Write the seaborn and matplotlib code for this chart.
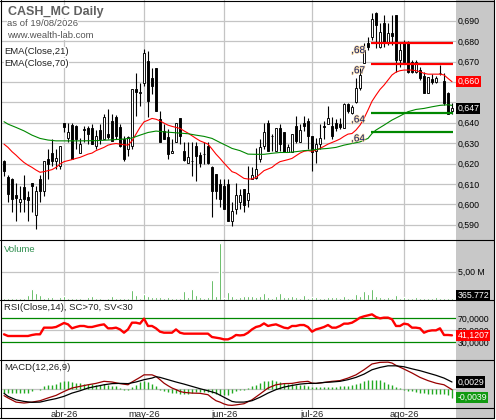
import numpy as np
import pandas as pd
import seaborn as sns
import matplotlib.pyplot as plt
import matplotlib.patheffects as pe
from matplotlib.patches import Rectangle
from matplotlib.lines import Line2D
from matplotlib.ticker import FuncFormatter

# trading days on the chart (Madrid market, 11 Mar - 19 Aug 2026)
holidays = ["2026-04-03", "2026-04-06", "2026-05-01"]
dates = pd.bdate_range("2026-03-11", "2026-08-19", freq="C", holidays=holidays)
month_names = {3: "mar", 4: "abr", 5: "may", 6: "jun", 7: "jul", 8: "ago"}

opens = [0.6210, 0.6135, 0.6124, 0.6045, 0.6013, 0.6083, 0.6035, 0.6103, 0.5950, 0.6124,
         0.6064, 0.6222, 0.6251, 0.6214, 0.6186, 0.6400, 0.6323, 0.6388, 0.6382, 0.6250,
         0.6368, 0.6372, 0.6372, 0.6287, 0.6365, 0.6320, 0.6344, 0.6409, 0.6430, 0.6377,
         0.6320, 0.6271, 0.6287, 0.6564, 0.6545, 0.6597, 0.6703, 0.6621, 0.6670, 0.6417,
         0.6360, 0.6328, 0.6250, 0.6303, 0.6421, 0.6260, 0.6202, 0.6210, 0.6284, 0.6241,
         0.6246, 0.6284, 0.6181, 0.6148, 0.6100, 0.6091, 0.6100, 0.5920, 0.5977, 0.6013,
         0.6075, 0.6023, 0.6124, 0.6129, 0.6222, 0.6284, 0.6400, 0.6334, 0.6260, 0.6372,
         0.6352, 0.6254, 0.6254, 0.6382, 0.6303, 0.6400, 0.6409, 0.6333, 0.6263, 0.6295,
         0.6382, 0.6393, 0.6382, 0.6400, 0.6393, 0.6372, 0.6491, 0.6450, 0.6503, 0.6568,
         0.6691, 0.6792, 0.6822, 0.6939, 0.6772, 0.6887, 0.6797, 0.6838, 0.6928, 0.6707,
         0.6797, 0.6797, 0.6699, 0.6650, 0.6658, 0.6629, 0.6547, 0.6612, 0.6601, 0.6646,
         0.6603, 0.6544, 0.6455]
highs = [0.6215, 0.6145, 0.6130, 0.6105, 0.6091, 0.6145, 0.6065, 0.6103, 0.6091, 0.6145,
         0.6214, 0.6271, 0.6320, 0.6271, 0.6287, 0.6400, 0.6400, 0.6400, 0.6388, 0.6323,
         0.6382, 0.6382, 0.6393, 0.6365, 0.6393, 0.6442, 0.6466, 0.6442, 0.6440, 0.6393,
         0.6336, 0.6336, 0.6564, 0.6646, 0.6597, 0.6760, 0.6750, 0.6670, 0.6670, 0.6458,
         0.6393, 0.6369, 0.6320, 0.6400, 0.6421, 0.6303, 0.6303, 0.6303, 0.6303, 0.6254,
         0.6303, 0.6303, 0.6189, 0.6148, 0.6124, 0.6124, 0.6124, 0.6010, 0.6104, 0.6075,
         0.6075, 0.6189, 0.6181, 0.6274, 0.6320, 0.6400, 0.6414, 0.6344, 0.6372, 0.6393,
         0.6352, 0.6295, 0.6344, 0.6431, 0.6393, 0.6434, 0.6421, 0.6333, 0.6323, 0.6393,
         0.6409, 0.6483, 0.6426, 0.6417, 0.6421, 0.6499, 0.6499, 0.6486, 0.6617, 0.6666,
         0.6789, 0.6822, 0.6936, 0.6944, 0.6887, 0.6928, 0.6887, 0.6928, 0.6928, 0.6789,
         0.6805, 0.6800, 0.6707, 0.6707, 0.6674, 0.6650, 0.6625, 0.6637, 0.6629, 0.6681,
         0.6642, 0.6550, 0.6495]
lows = [0.6137, 0.6010, 0.5961, 0.5920, 0.5961, 0.5961, 0.5920, 0.5961, 0.5880, 0.6010,
        0.6043, 0.6124, 0.6186, 0.6173, 0.6173, 0.6352, 0.6303, 0.6222, 0.6271, 0.6250,
        0.6303, 0.6295, 0.6295, 0.6271, 0.6295, 0.6320, 0.6320, 0.6311, 0.6320, 0.6279,
        0.6214, 0.6238, 0.6271, 0.6434, 0.6483, 0.6580, 0.6426, 0.6540, 0.6458, 0.6303,
        0.6320, 0.6222, 0.6250, 0.6303, 0.6295, 0.6214, 0.6202, 0.6140, 0.6116, 0.6181,
        0.6197, 0.6197, 0.5937, 0.6026, 0.5985, 0.5977, 0.5920, 0.5896, 0.5953, 0.5977,
        0.5961, 0.5985, 0.6124, 0.6124, 0.6205, 0.6271, 0.6260, 0.6263, 0.6260, 0.6260,
        0.6254, 0.6254, 0.6254, 0.6300, 0.6303, 0.6360, 0.6271, 0.6165, 0.6202, 0.6271,
        0.6320, 0.6393, 0.6320, 0.6360, 0.6369, 0.6372, 0.6450, 0.6445, 0.6495, 0.6560,
        0.6691, 0.6756, 0.6805, 0.6764, 0.6764, 0.6772, 0.6781, 0.6781, 0.6650, 0.6674,
        0.6691, 0.6642, 0.6642, 0.6642, 0.6609, 0.6547, 0.6547, 0.6590, 0.6593, 0.6633,
        0.6486, 0.6445, 0.6445]
closes = [0.6162, 0.6051, 0.6026, 0.6030, 0.6025, 0.6026, 0.6020, 0.6091, 0.6064, 0.6067,
          0.6210, 0.6197, 0.6210, 0.6225, 0.6287, 0.6377, 0.6352, 0.6222, 0.6320, 0.6294,
          0.6362, 0.6344, 0.6298, 0.6336, 0.6320, 0.6430, 0.6330, 0.6311, 0.6336, 0.6287,
          0.6222, 0.6328, 0.6564, 0.6551, 0.6550, 0.6740, 0.6507, 0.6580, 0.6458, 0.6303,
          0.6320, 0.6246, 0.6260, 0.6400, 0.6336, 0.6219, 0.6230, 0.6212, 0.6238, 0.6202,
          0.6248, 0.6202, 0.6067, 0.6067, 0.6026, 0.5977, 0.5920, 0.5969, 0.6046, 0.6046,
          0.5999, 0.6055, 0.6144, 0.6173, 0.6279, 0.6352, 0.6260, 0.6333, 0.6372, 0.6295,
          0.6254, 0.6279, 0.6344, 0.6311, 0.6365, 0.6382, 0.6333, 0.6254, 0.6295, 0.6323,
          0.6378, 0.6421, 0.6333, 0.6372, 0.6377, 0.6491, 0.6458, 0.6478, 0.6568, 0.6633,
          0.6756, 0.6772, 0.6907, 0.6879, 0.6846, 0.6789, 0.6838, 0.6825, 0.6707, 0.6756,
          0.6699, 0.6650, 0.6650, 0.6699, 0.6617, 0.6547, 0.6622, 0.6600, 0.6617, 0.6642,
          0.6495, 0.6445, 0.6470]
volume = [420000, 420000, 420000, 420000, 420000, 420000, 840000, 1930000, 1320000, 900000,
          420000, 540000, 540000, 240000, 540000, 720000, 420000, 300000, 420000, 420000,
          240000, 540000, 720000, 420000, 420000, 240000, 420000, 720000, 300000, 420000,
          420000, 420000, 1740000, 900000, 420000, 1020000, 720000, 540000, 540000, 540000,
          420000, 540000, 420000, 420000, 420000, 1500000, 540000, 1870000, 900000, 540000,
          420000, 540000, 3550000, 720000, 10050000, 420000, 1380000, 720000, 420000, 540000,
          720000, 720000, 720000, 540000, 720000, 1320000, 540000, 420000, 720000, 1320000,
          540000, 540000, 720000, 540000, 420000, 900000, 420000, 540000, 540000, 420000,
          420000, 540000, 540000, 540000, 420000, 720000, 420000, 420000, 1020000, 720000,
          1620000, 1020000, 1930000, 720000, 540000, 420000, 540000, 420000, 900000, 420000,
          540000, 420000, 420000, 540000, 420000, 420000, 420000, 420000, 540000, 300000,
          420000, 420000, 365772]

ema21 = [0.6295, 0.6279, 0.6258, 0.6241, 0.6222, 0.6205, 0.6192, 0.6181, 0.6168, 0.6157,
         0.6160, 0.6165, 0.6170, 0.6181, 0.6197, 0.6209, 0.6214, 0.6219, 0.6225, 0.6230,
         0.6238, 0.6246, 0.6251, 0.6263, 0.6271, 0.6279, 0.6290, 0.6295, 0.6298, 0.6295,
         0.6292, 0.6290, 0.6311, 0.6344, 0.6377, 0.6404, 0.6412, 0.6421, 0.6417, 0.6409,
         0.6398, 0.6388, 0.6382, 0.6377, 0.6372, 0.6360, 0.6349, 0.6336, 0.6323, 0.6311,
         0.6303, 0.6295, 0.6271, 0.6246, 0.6225, 0.6202, 0.6181, 0.6160, 0.6153, 0.6140,
         0.6127, 0.6124, 0.6124, 0.6132, 0.6148, 0.6165, 0.6173, 0.6181, 0.6197, 0.6209,
         0.6214, 0.6219, 0.6225, 0.6238, 0.6251, 0.6260, 0.6263, 0.6260, 0.6266, 0.6274,
         0.6284, 0.6295, 0.6303, 0.6311, 0.6320, 0.6333, 0.6344, 0.6347, 0.6364, 0.6388,
         0.6421, 0.6462, 0.6505, 0.6535, 0.6563, 0.6584, 0.6609, 0.6634, 0.6648, 0.6655,
         0.6658, 0.6658, 0.6658, 0.6655, 0.6650, 0.6642, 0.6638, 0.6638, 0.6638, 0.6638,
         0.6634, 0.6617, 0.6601]
ema70_bars = [1, 2, 4, 6, 8, 10, 12, 14, 16, 20, 24, 28, 31, 33, 35, 37, 39, 41, 43, 45,
              47, 49, 51, 53, 55, 57, 58, 60, 62, 64, 66, 68, 70, 72, 74, 76, 78, 80, 82, 84,
              86, 88, 90, 92, 93, 94, 96, 98, 100, 102, 104, 106, 108, 110, 112, 113]
ema70 = [0.6405, 0.6393, 0.6377, 0.6360, 0.6339, 0.6323, 0.6315, 0.6311, 0.6311, 0.6311,
         0.6312, 0.6316, 0.6320, 0.6325, 0.6339, 0.6352, 0.6359, 0.6355, 0.6352, 0.6349,
         0.6346, 0.6339, 0.6333, 0.6323, 0.6303, 0.6284, 0.6274, 0.6263, 0.6246, 0.6245,
         0.6245, 0.6250, 0.6254, 0.6254, 0.6258, 0.6263, 0.6266, 0.6271, 0.6274, 0.6279,
         0.6290, 0.6298, 0.6306, 0.6323, 0.6347, 0.6364, 0.6388, 0.6413, 0.6433, 0.6454,
         0.6465, 0.6470, 0.6478, 0.6485, 0.6488, 0.6485]

# support / resistance levels drawn from bar 93 to the last bar
level_values = [0.6789, 0.6690, 0.6449, 0.6356]
level_colors = ["#ff0000", "#ff0000", "#008800", "#008800"]
level_start = 93

rsi = [42.8, 40.0, 40.0, 40.0, 40.0, 40.0, 40.0, 41.7, 42.8, 42.8,
       53.9, 53.9, 53.9, 55.0, 58.3, 61.7, 59.4, 52.8, 55.0, 56.7,
       56.7, 55.0, 55.0, 56.7, 58.3, 59.4, 52.8, 52.8, 53.9, 51.0,
       45.5, 51.0, 62.2, 62.2, 60.6, 68.9, 56.7, 56.7, 52.8, 47.2,
       45.5, 45.5, 45.5, 51.0, 45.5, 43.9, 43.9, 43.9, 43.9, 43.9,
       43.9, 43.9, 38.3, 37.2, 36.1, 34.4, 34.4, 37.2, 41.7, 41.0,
       41.7, 45.5, 51.0, 55.0, 56.7, 61.0, 56.7, 58.3, 59.4, 56.7,
       53.9, 52.8, 56.7, 56.7, 58.3, 58.3, 55.0, 47.2, 51.0, 52.8,
       55.0, 58.3, 53.9, 53.9, 56.7, 60.6, 60.6, 62.2, 66.1, 70.6,
       72.8, 74.4, 76.1, 71.7, 69.4, 70.6, 70.6, 67.8, 56.7, 56.7,
       60.6, 59.4, 53.9, 53.9, 52.8, 45.5, 48.3, 49.4, 49.4, 52.8,
       41.7, 41.7, 41.1207]

macd_bars = [1, 2, 4, 6, 8, 10, 12, 14, 16, 18, 20, 22, 24, 26, 28, 30, 32, 33, 34, 35,
             36, 38, 39, 40, 41, 42, 43, 44, 45, 46, 48, 50, 52, 53, 54, 55, 56, 57, 58, 59,
             61, 63, 65, 67, 69, 71, 73, 75, 77, 78, 79, 81, 83, 85, 87, 89, 91, 93, 95, 97,
             98, 99, 101, 103, 105, 107, 109, 111, 113]
macd = [-0.0030, -0.0040, -0.0058, -0.0062, -0.0058, -0.0052, -0.0040, -0.0029, -0.0012, 0.0003,
        0.0010, 0.0017, 0.0023, 0.0032, 0.0029, 0.0022, 0.0017, 0.0029, 0.0039, 0.0049,
        0.0060, 0.0060, 0.0053, 0.0039, 0.0024, 0.0013, 0.0003, -0.0004, -0.0012, -0.0016,
        -0.0019, -0.0020, -0.0026, -0.0040, -0.0052, -0.0058, -0.0066, -0.0071, -0.0072, -0.0070,
        -0.0065, -0.0048, -0.0023, 0.0003, 0.0017, 0.0022, 0.0023, 0.0029, 0.0032, 0.0024,
        0.0023, 0.0027, 0.0032, 0.0035, 0.0046, 0.0060, 0.0082, 0.0107, 0.0114, 0.0115,
        0.0111, 0.0101, 0.0085, 0.0068, 0.0049, 0.0035, 0.0024, 0.0017, -0.0004]
signal_bars = [1, 2, 4, 6, 8, 10, 12, 14, 16, 18, 20, 22, 24, 26, 28, 30, 32, 34, 36, 38,
               39, 40, 42, 44, 46, 48, 50, 52, 54, 56, 58, 59, 61, 63, 65, 67, 69, 71, 73, 75,
               77, 79, 81, 83, 85, 87, 89, 91, 93, 95, 97, 99, 101, 103, 105, 107, 109, 111, 113]
signal = [-0.0020, -0.0033, -0.0048, -0.0055, -0.0059, -0.0058, -0.0050, -0.0043, -0.0033, -0.0019,
          -0.0009, 0.0003, 0.0010, 0.0017, 0.0022, 0.0023, 0.0022, 0.0029, 0.0039, 0.0046,
          0.0052, 0.0049, 0.0039, 0.0029, 0.0020, 0.0010, 0.0000, -0.0009, -0.0019, -0.0037,
          -0.0055, -0.0058, -0.0058, -0.0052, -0.0037, -0.0019, -0.0004, 0.0007, 0.0014, 0.0020,
          0.0023, 0.0023, 0.0027, 0.0029, 0.0032, 0.0039, 0.0049, 0.0063, 0.0082, 0.0092,
          0.0099, 0.0099, 0.0095, 0.0086, 0.0078, 0.0068, 0.0058, 0.0046, 0.0029]
hist = [-0.0019, -0.0019, -0.0019, -0.0019, -0.0019, -0.0019, -0.0019, -0.0012, -0.0003, -0.0004,
        0.0010, 0.0014, 0.0017, 0.0022, 0.0029, 0.0035, 0.0032, 0.0029, 0.0024, 0.0024,
        0.0022, 0.0022, 0.0022, 0.0017, 0.0017, 0.0022, 0.0017, 0.0013, 0.0010, 0.0003,
        -0.0004, -0.0004, 0.0006, 0.0017, 0.0029, 0.0032, 0.0029, 0.0020, 0.0010, -0.0004,
        -0.0012, -0.0014, -0.0019, -0.0019, -0.0023, -0.0023, -0.0022, -0.0019, -0.0016, -0.0014,
        -0.0014, -0.0014, -0.0019, -0.0023, -0.0026, -0.0029, -0.0026, -0.0019, -0.0012, -0.0004,
        -0.0004, 0.0003, 0.0010, 0.0017, 0.0024, 0.0032, 0.0032, 0.0039, 0.0032, 0.0029,
        0.0024, 0.0022, 0.0022, 0.0017, 0.0017, 0.0014, 0.0010, 0.0007, 0.0007, 0.0007,
        0.0007, 0.0007, 0.0006, 0.0007, 0.0010, 0.0010, 0.0013, 0.0014, 0.0020, 0.0024,
        0.0032, 0.0036, 0.0039, 0.0036, 0.0036, 0.0029, 0.0022, 0.0017, 0.0007, 0.0003,
        -0.0004, -0.0009, -0.0012, -0.0014, -0.0019, -0.0019, -0.0022, -0.0022, -0.0023, -0.0023,
        -0.0023, -0.0029, -0.0039]

sns.set_style("white")
plt.rcParams['font.family'] = ['Liberation Sans', 'DejaVu Sans']

W, H = 496, 420
bars = np.arange(1, len(dates) + 1)
o, h, l, c = (np.array(a) for a in (opens, highs, lows, closes))

# first bar of each month -> month tick
month_start = [i + 1 for i in range(1, len(dates)) if dates[i].month != dates[i - 1].month]
month_labels = [f"{month_names[dates[i - 1].month]}-{dates[i - 1]:%y}" for i in month_start]

fig = plt.figure(figsize=(W / 100, H / 100), dpi=100)
fig.add_artist(Rectangle((456 / W, 1 - 418 / H), 38 / W, 418 / H,
                         transform=fig.transFigure, fc="#c8c8c8", ec="none", zorder=-1))


def panel(top, bottom):
    return fig.add_axes([1 / W, 1 - bottom / H, 455 / W, (bottom - top) / H])


ax_p = panel(0, 240)
ax_v = panel(240, 300)
ax_r = panel(300, 360)
ax_m = panel(360, 408)
axes = [ax_p, ax_v, ax_r, ax_m]
grid_col = "#c4c4c4"

for ax in axes:
    ax.set_facecolor("white")
    for s in ax.spines.values():
        s.set_visible(False)
    ax.set_xlim(0.25, 114)
    ax.set_xticks(month_start)
    for m in month_start:
        ax.axvline(m, color=grid_col, lw=0.9, zorder=0)
    ax.yaxis.tick_right()
    ax.tick_params(axis="y", length=0, pad=1.2, labelsize=6.3, colors="black")
    ax.tick_params(axis="x", length=0, labelbottom=False)


def fmt3(v):
    return f"{v:.3f}".replace(".", ",")


# price panel
ax_p.set_ylim(0.5825, 0.70015)
price_ticks = np.arange(59, 70) / 100
for t in price_ticks:
    ax_p.axhline(t, color=grid_col, lw=0.9, zorder=0)
# levels hidden behind the value boxes get no tick text
shown_ticks = [t for t in price_ticks if round(t, 2) not in (0.65, 0.66)]
ax_p.set_yticks(shown_ticks)
ax_p.yaxis.set_major_formatter(FuncFormatter(lambda v, p: fmt3(v)))

up = c >= o
ax_p.vlines(bars, l, h, color="black", lw=0.8, zorder=3)
ax_p.bar(bars, np.maximum(np.abs(c - o), 0.00015), bottom=np.minimum(o, c), width=0.62,
         color=np.where(up, "white", "black"), edgecolor="black", linewidth=0.65, zorder=4)
sns.lineplot(x=bars, y=ema21, ax=ax_p, color="#ff0000", lw=0.8, zorder=5)
sns.lineplot(x=ema70_bars, y=ema70, ax=ax_p, color="#008800", lw=0.8, zorder=5)

for v, col in zip(level_values, level_colors):
    ax_p.hlines(v, level_start - 0.3, bars[-1] + 0.3, color=col, lw=1.6, zorder=6)
    ax_p.annotate(f"{v:.2f}"[1:].replace(".", ","), xy=(level_start, v), xytext=(-5, -1.2),
                  textcoords="offset points", ha="right", va="top", fontsize=7.2,
                  color="#12206e", zorder=7,
                  path_effects=[pe.withStroke(linewidth=1.0, foreground="#f9d9a0")])


def value_box(ax, y, text, fc, va="center"):
    ax.annotate(text, xy=(1, y), xycoords=ax.get_yaxis_transform(), xytext=(1.0, 0),
                textcoords="offset points", ha="left", va=va, fontsize=6.3, color="white",
                bbox=dict(boxstyle="square,pad=0.12", fc=fc, ec="none"),
                annotation_clip=False, zorder=10)


value_box(ax_p, ema70[-1], "", "#119911")
value_box(ax_p, ema21[-1], fmt3(ema21[-1]), "#ff0000")
value_box(ax_p, closes[-1], fmt3(closes[-1]), "black")

# volume panel
ax_v.bar(bars, volume, width=0.5, color="#119911", zorder=3)
ax_v.set_ylim(0, 10.56e6)
ax_v.set_yticks([5e6])
ax_v.set_yticklabels(["5,00 M"])
ax_v.axhline(5e6, color=grid_col, lw=0.9, zorder=0)
value_box(ax_v, 0, f"{volume[-1]:,}".replace(",", "."), "black", va="bottom")

# RSI panel
ax_r.set_ylim(0, 100)
ax_r.axhline(50, color=grid_col, lw=0.9, zorder=0)
ax_r.axhline(70, color="#008800", lw=0.9, zorder=2)
ax_r.axhline(30, color="#008800", lw=0.9, zorder=2)
sns.lineplot(x=bars, y=rsi, ax=ax_r, color="#ff0000", lw=1.7, zorder=4)
ax_r.set_yticks([30, 50, 70])
ax_r.set_yticklabels([f"{t},0000" for t in (30, 50, 70)])
value_box(ax_r, rsi[-1], f"{rsi[-1]:.4f}".replace(".", ","), "#ff0000")

# MACD panel
ax_m.set_ylim(-0.00835, 0.01242)
ax_m.axhline(0, color=grid_col, lw=0.9, zorder=0)
ax_m.vlines(bars, 0, hist, color="#22aa22", lw=1.0, zorder=2)
sns.lineplot(x=macd_bars, y=macd, ax=ax_m, color="#990000", lw=0.9, zorder=4)
sns.lineplot(x=signal_bars, y=signal, ax=ax_m, color="black", lw=0.9, zorder=4)
ax_m.set_yticks([])
value_box(ax_m, signal[-1], f"{signal[-1]:.4f}".replace(".", ","), "black")
value_box(ax_m, hist[-1], f"{hist[-1]:.4f}".replace(".", ","), "#119911")
ax_m.set_xticklabels(month_labels)
ax_m.tick_params(axis="x", length=0, pad=1.2, labelsize=6.8, labelbottom=True)

for ax in axes:
    ax.set_xlabel("")
    ax.set_ylabel("")


# header and panel captions
def fig_text(x, y, s, **kw):
    fig.text(x / W, 1 - y / H, s, va="center", ha="left", **kw)


white_box = dict(fc="white", ec="none", pad=0.3)
fig_text(8, 11.5, "CASH_MC Daily", fontsize=9, fontweight="bold", color="#606060", bbox=white_box)
fig_text(7, 24, "as of 19/08/2026", fontsize=6.8, color="#555555", bbox=white_box)
fig_text(7, 35, "www.wealth-lab.com", fontsize=6.8, color="#555555", bbox=white_box)
fig_text(4, 52, "EMA(Close,21)", fontsize=6.8, color="#202020", bbox=white_box)
fig_text(4, 63, "EMA(Close,70)", fontsize=6.8, color="#202020", bbox=white_box)
fig_text(4, 250, "Volume", fontsize=6.8, color="#2f8f4f")
fig_text(4, 308, "RSI(Close,14), SC>70, SV<30", fontsize=6.8, color="#202020")
fig_text(4, 368, "MACD(12,26,9)", fontsize=6.8, color="#202020")

# frame and panel separators
for y in (0.5, 240, 300, 360, 408, 418):
    fig.add_artist(Line2D([0, 494 / W], [1 - y / H] * 2, color="black", lw=0.8))
for x in (0.5, 494):
    fig.add_artist(Line2D([x / W] * 2, [1 - 418 / H, 1], color="black", lw=0.8))

fig.savefig("out.png", dpi=100)
